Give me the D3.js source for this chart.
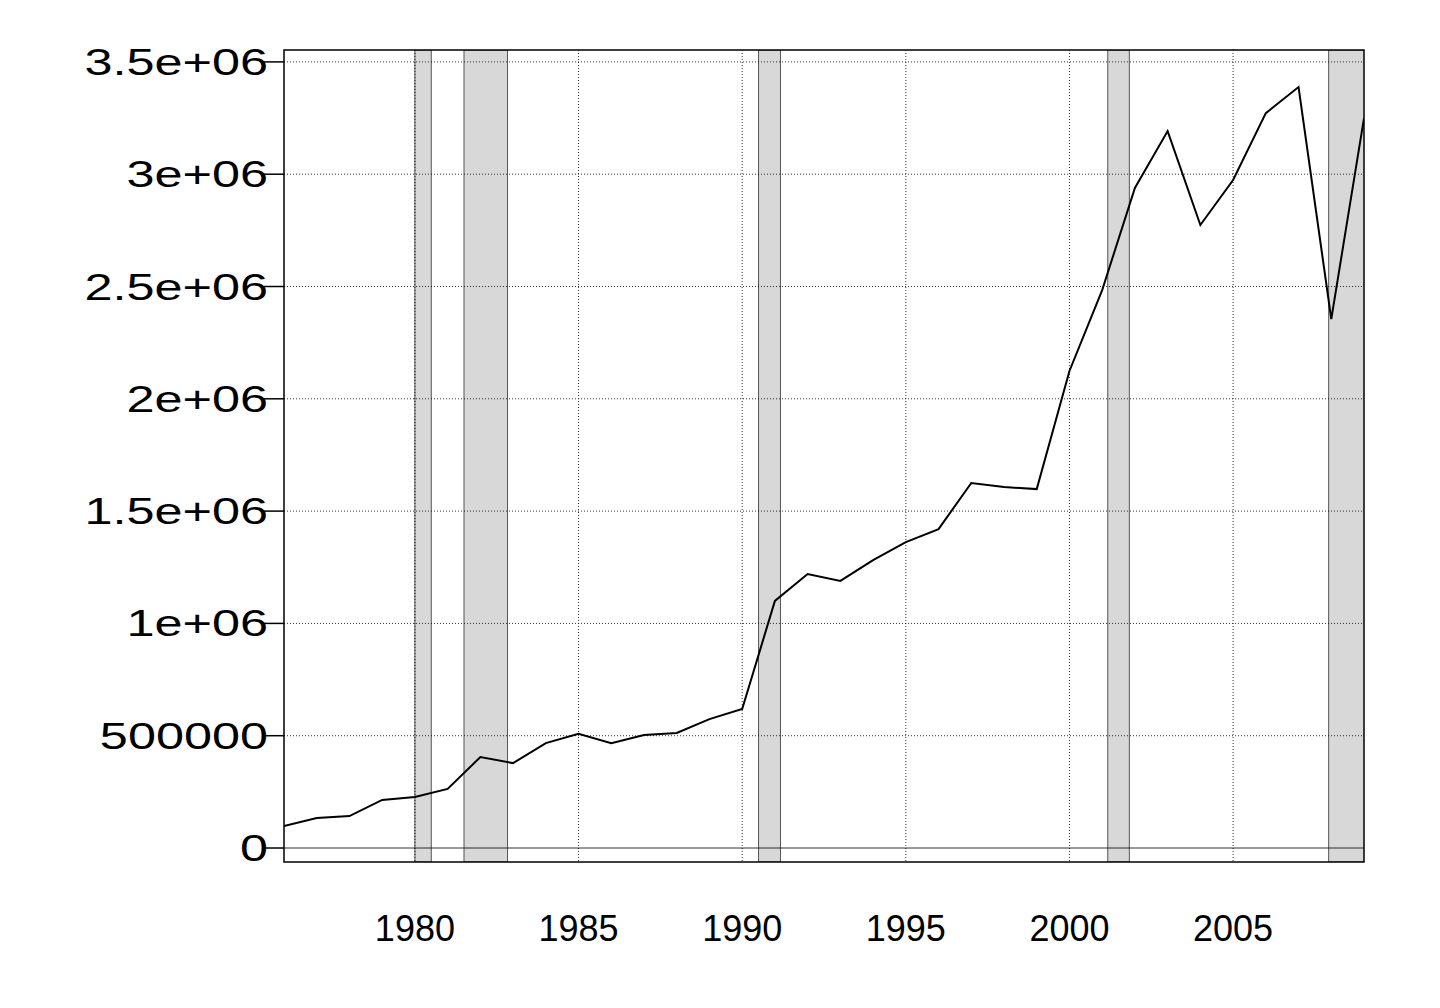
<!DOCTYPE html>
<html><head><meta charset="utf-8">
<script src="https://cdn.jsdelivr.net/npm/d3@7"></script>
<style>body{margin:0;background:#fff}svg{font-family:"Liberation Sans",Arial,sans-serif}</style>
</head><body><div id="chart"></div>
<script>
const years = d3.range(1976, 2010);
const values = [98000,134000,142000,214000,227000,263000,405000,378000,467000,508000,
  467000,503000,512000,574000,619000,1100000,1220000,1189000,1282000,1362000,
  1420000,1625000,1607000,1598000,2124000,2484000,2939000,3192000,2774000,2974000,
  3272000,3388000,2355000,3250000];
const recessions = [[1980.0,1980.5],[1981.5,1982.83],[1990.5,1991.17],[2001.17,2001.83],[2007.92,2009.5]];
const yTicks = [0,500000,1000000,1500000,2000000,2500000,3000000,3500000];
const yLabels = ["0","500000","1e+06","1.5e+06","2e+06","2.5e+06","3e+06","3.5e+06"];
const xTicks = [1980,1985,1990,1995,2000,2005];

const W = 1440, H = 1008, L = 284, R = 1364, T = 50, B = 862;
const svg = d3.select("#chart").append("svg").attr("width", W).attr("height", H);
const x = d3.scaleLinear().domain([1976, 2009]).range([L, R]);
const y = d3.scaleLinear().domain([-62300, 3553000]).range([B, T]);

svg.append("defs").append("clipPath").attr("id", "clip")
  .append("rect").attr("x", L).attr("y", T).attr("width", R - L).attr("height", B - T);
const g = svg.append("g").attr("clip-path", "url(#clip)");

// recession bands
g.selectAll("rect.rec").data(recessions).join("rect")
  .attr("x", d => x(d[0])).attr("width", d => x(d[1]) - x(d[0]))
  .attr("y", T).attr("height", B - T)
  .attr("fill", "#d8d8d8").attr("stroke", "#555").attr("stroke-width", 1);

// grid
g.selectAll("line.gx").data(xTicks).join("line")
  .attr("x1", d => x(d)).attr("x2", d => x(d)).attr("y1", T).attr("y2", B)
  .attr("stroke", "#000").attr("stroke-width", 0.8).attr("stroke-dasharray", "1,2");
g.selectAll("line.gy").data(yTicks).join("line")
  .attr("x1", L).attr("x2", R).attr("y1", d => y(d)).attr("y2", d => y(d))
  .attr("stroke", "#000").attr("stroke-width", 0.8)
  .attr("stroke-dasharray", d => d === 0 ? null : "1,2");

g.append("path").datum(values)
  .attr("d", d3.line().x((d, i) => x(years[i])).y(d => y(d)))
  .attr("fill", "none").attr("stroke", "#000").attr("stroke-width", 2);

svg.append("rect").attr("x", L).attr("y", T).attr("width", R - L).attr("height", B - T)
  .attr("fill", "none").attr("stroke", "#000").attr("stroke-width", 1.5);

// y axis
svg.selectAll("line.ty").data(yTicks).join("line")
  .attr("x1", L - 20).attr("x2", L).attr("y1", d => y(d)).attr("y2", d => y(d))
  .attr("stroke", "#000").attr("stroke-width", 1.5);
svg.selectAll("text.ly").data(yTicks).join("text")
  .attr("transform", d => `translate(${L - 16},${y(d) + 13}) scale(1.4,1)`)
  .attr("text-anchor", "end")
  .attr("font-size", 36).text((d, i) => yLabels[i]);

// x axis labels
svg.selectAll("text.lx").data(xTicks).join("text")
  .attr("x", d => x(d)).attr("y", 941).attr("text-anchor", "middle")
  .attr("font-size", 36).text(d => d);
</script></body></html>
